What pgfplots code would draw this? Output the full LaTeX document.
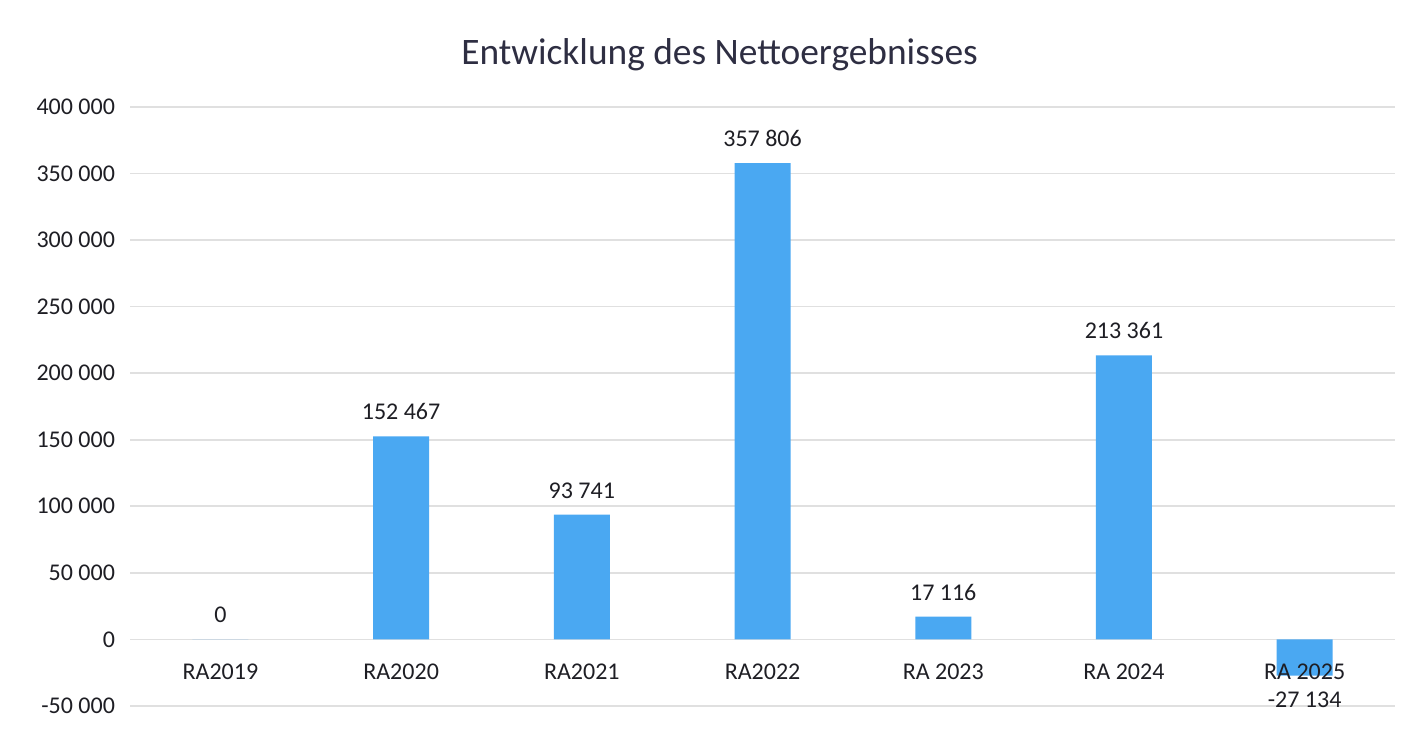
\documentclass[border=0pt]{standalone}
\usepackage{fontspec}
\setmainfont{Carlito}
\usepackage{pgfplots}
\pgfplotsset{compat=1.18}
\definecolor{barblue}{HTML}{4AA8F2}
\definecolor{gridgray}{HTML}{E0E0E0}
\definecolor{txt}{HTML}{1E1E24}
\definecolor{titlecol}{HTML}{2E2E42}

\begin{document}
\begin{tikzpicture}
\begin{axis}[
	scale only axis,
	width=632.5pt, height=299.5pt,
	clip=false,
	xmin=-0.5, xmax=6.5,
	ymin=-50000, ymax=400000,
	ytick={-50000,0,50000,100000,150000,200000,250000,300000,350000,400000},
	xtick=\empty,
	axis line style={draw=none},
	tick style={draw=none},
	ymajorgrids,
	major grid style={gridgray, line width=0.8pt},
	/pgf/number format/assume math mode=true,
	/pgf/number format/fixed,
	/pgf/number format/1000 sep={\ },
	scaled y ticks=false,
	yticklabel style={font=\fontsize{12}{14}\selectfont, text=txt, xshift=-4pt},
]
% values
\addplot[ybar, bar width=28pt, bar shift=0pt, draw=none, fill=barblue,
	nodes near coords,
	nodes near coords style={font=\fontsize{12}{14}\selectfont, text=txt, inner sep=8pt}]
	coordinates {
	(0,0) (1,152467) (2,93741) (3,357806) (4,17116) (5,213361) (6,-27134)
};
% category names, drawn after the bars so they sit on top
\addplot[only marks, mark=none, point meta=explicit symbolic,
	nodes near coords, nodes near coords align=center,
	nodes near coords style={font=\fontsize{12}{14}\selectfont, text=txt, yshift=-16pt}]
	coordinates {
	(0,0) [RA2019] (1,0) [RA2020] (2,0) [RA2021] (3,0) [RA2022]
	(4,0) [RA 2023] (5,0) [RA 2024] (6,0) [RA 2025]
};
\node[font=\fontsize{18.7}{22}\selectfont, text=titlecol] at (rel axis cs:0.466,1.087) {Entwicklung des Nettoergebnisses};
\path (rel axis cs:-0.1028,-0.0451) rectangle (rel axis cs:1.0071,1.1786);
\end{axis}
\end{tikzpicture}
\end{document}
